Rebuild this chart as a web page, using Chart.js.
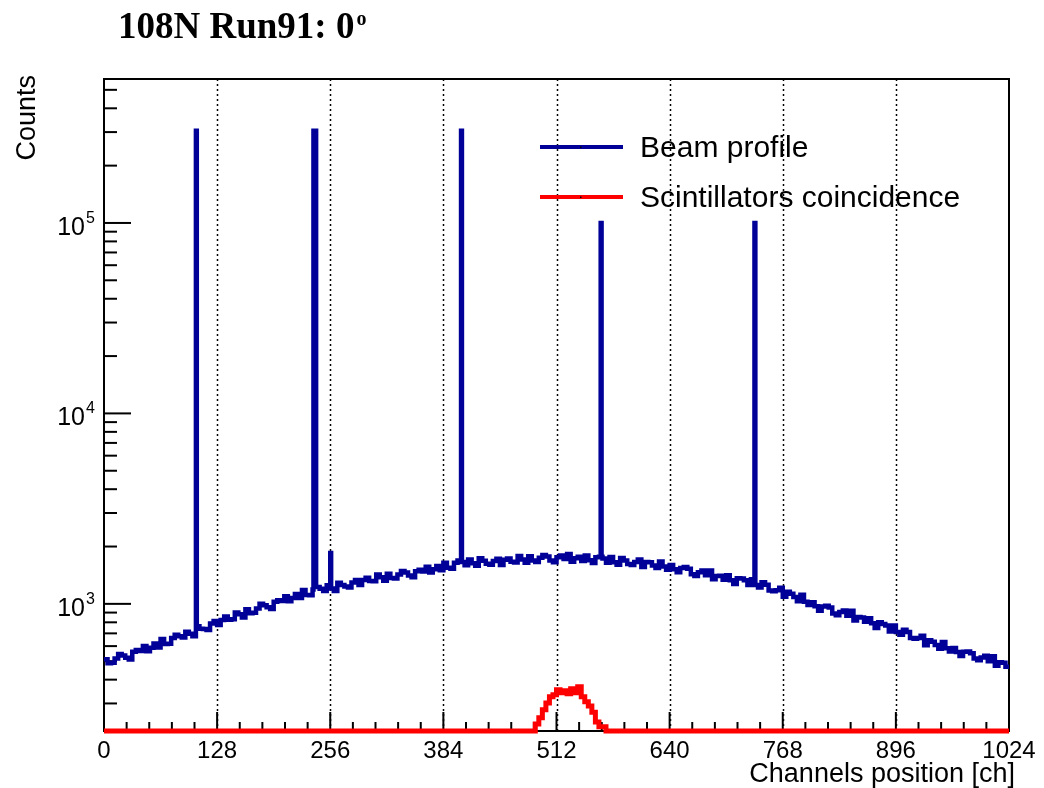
<!DOCTYPE html>
<html>
<head>
<meta charset="utf-8">
<script src="https://cdn.jsdelivr.net/npm/chart.js@4.4.1/dist/chart.umd.min.js"></script>
<style>
  html, body { margin: 0; padding: 0; background: #ffffff; }
  #wrap { width: 1044px; height: 788px; position: relative; }
  canvas { display: block; }
</style>
</head>
<body>
<div id="wrap"><canvas id="c" width="1044" height="788"></canvas></div>
<script>
// ---------------- data ----------------
const titleText = "108N Run91: 0";
const titleSup = "o";
const xTitle = "Channels position [ch]";
const yTitle = "Counts";
const seriesNames = ["Beam profile", "Scintillators coincidence"];

const xTickLabels = [0, 128, 256, 384, 512, 640, 768, 896, 1024];
const yDecadeLabels = [3, 4, 5];

// Beam profile: 256 bins of 4 channels
const beamBinWidth = 4;
const beamCounts = [
  512, 487, 491, 516, 546, 536, 522, 511, 561, 572,
  565, 600, 564, 588, 620, 590, 654, 616, 617, 662,
  689, 676, 665, 713, 697, 676, 762, 741, 738, 730,
  789, 812, 775, 823, 858, 825, 831, 900, 883, 848,
  937, 892, 899, 945, 1002, 982, 959, 940, 1025, 1045,
  1034, 1096, 1032, 1075, 1128, 1073, 1182, 1114, 1110, 1191,
  1226, 1202, 1167, 1251, 1204, 1167, 1292, 1255, 1232, 1219,
  1295, 1333, 1255, 1333, 1372, 1319, 1316, 1425, 1378, 1323,
  1438, 1368, 1357, 1428, 1489, 1461, 1407, 1378, 1482, 1511,
  1478, 1568, 1460, 1521, 1580, 1503, 1642, 1547, 1530, 1642,
  1690, 1657, 1596, 1711, 1633, 1583, 1735, 1685, 1623, 1606,
  1677, 1726, 1602, 1702, 1733, 1666, 1647, 1783, 1712, 1644,
  1776, 1690, 1661, 1747, 1805, 1771, 1690, 1655, 1759, 1794,
  1721, 1825, 1666, 1735, 1766, 1679, 1797, 1693, 1638, 1758,
  1765, 1731, 1642, 1761, 1655, 1605, 1741, 1691, 1618, 1601,
  1659, 1709, 1562, 1660, 1656, 1592, 1542, 1670, 1572, 1509,
  1598, 1520, 1465, 1541, 1560, 1530, 1431, 1401, 1466, 1495,
  1412, 1497, 1346, 1402, 1406, 1337, 1412, 1331, 1270, 1364,
  1357, 1330, 1257, 1348, 1255, 1217, 1297, 1260, 1177, 1165,
  1180, 1215, 1089, 1157, 1131, 1087, 1031, 1116, 1027, 986,
  1021, 971, 921, 969, 976, 957, 889, 871, 905, 923,
  866, 919, 819, 853, 848, 806, 840, 792, 746, 801,
  785, 770, 717, 769, 711, 689, 732, 711, 662, 655,
  661, 680, 607, 645, 633, 609, 582, 630, 585, 562,
  587, 559, 533, 561, 562, 551, 516, 505, 523, 534,
  500, 530, 473, 493, 491, 467
];
// narrow spikes in the beam profile
const spikeChannels = [104, 237, 256, 404, 562, 736];
const spikeWidths   = [1, 3, 1, 1, 1, 1];
const spikeHeights  = [305000, 305000, 1850, 305000, 100000, 100000];

// Scintillators coincidence: 4-channel bins starting at channel 488, zero elsewhere
const redStart = 488;
const redBinWidth = 4;
const redCounts = [234, 252, 278, 302, 325, 333, 354, 341, 350, 337, 358, 341, 367, 325, 306, 291, 270, 240, 226, 226];

const xMin = 0, xMax = 1024;
const yMin = 215, yMax = 570000;

// ---------------- build datasets ----------------
// zero counts are drawn on the axis floor (log scale cannot show 0)
const floorVal = v => (v > yMin ? v : yMin);
function buildBeam() {
  const n = beamCounts.length;
  const pts = [];
  for (let i = 0; i < n; i++) pts.push({ x: i * beamBinWidth, y: beamCounts[i] });
  pts.push({ x: n * beamBinWidth, y: beamCounts[n - 1] });
  spikeChannels.forEach((c, k) => {
    const w = spikeWidths[k];
    const base = beamCounts[Math.min(n - 1, Math.floor((c + w) / beamBinWidth))];
    pts.push({ x: c, y: spikeHeights[k] });
    pts.push({ x: c + w, y: base });
  });
  pts.sort((a, b) => a.x - b.x);
  return pts;
}
function buildRed() {
  const pts = [{ x: xMin, y: floorVal(0) }];
  redCounts.forEach((v, i) => pts.push({ x: redStart + i * redBinWidth, y: floorVal(v) }));
  pts.push({ x: redStart + redCounts.length * redBinWidth, y: floorVal(0) });
  pts.push({ x: xMax, y: floorVal(0) });
  return pts;
}

const FONT = '"Liberation Sans", Arial, Helvetica, sans-serif';

const framePlugin = {
  id: 'rootFrame',
  beforeDatasetsDraw(chart) {
    const ctx = chart.ctx;
    const xs = chart.scales.x, ys = chart.scales.y;
    const a = chart.chartArea;
    ctx.save();
    // dotted grid
    ctx.strokeStyle = '#000';
    ctx.lineWidth = 1.5;
    ctx.setLineDash([2, 3]);
    for (let v = 128; v < 1024; v += 128) {
      const px = Math.round(xs.getPixelForValue(v)) + 0.5;
      ctx.beginPath(); ctx.moveTo(px, a.top); ctx.lineTo(px, a.bottom); ctx.stroke();
    }
    ctx.setLineDash([]);
    // frame
    ctx.lineWidth = 2;
    ctx.strokeRect(a.left, a.top, a.right - a.left, a.bottom - a.top);
    // x ticks
    for (let k = 0; k <= 40; k++) {
      const v = k * 25.6;
      const px = xs.getPixelForValue(v);
      const len = (k % 5 === 0) ? 19 : 9;
      ctx.beginPath(); ctx.moveTo(px, a.bottom); ctx.lineTo(px, a.bottom - len); ctx.stroke();
    }
    // y ticks
    for (let d = 2; d <= 5; d++) {
      for (let m = 1; m <= 9; m++) {
        const v = m * Math.pow(10, d);
        if (v < yMin || v > yMax) continue;
        const py = ys.getPixelForValue(v);
        const len = (m === 1) ? 27 : 13;
        ctx.beginPath(); ctx.moveTo(a.left, py); ctx.lineTo(a.left + len, py); ctx.stroke();
      }
    }
    // x tick labels
    ctx.fillStyle = '#000';
    ctx.font = '24px ' + FONT;
    ctx.textAlign = 'center';
    ctx.textBaseline = 'alphabetic';
    xTickLabels.forEach(v => {
      ctx.fillText(String(v), xs.getPixelForValue(v), a.bottom + 27);
    });
    // y tick labels 10^n
    yDecadeLabels.forEach(n => {
      const py = ys.getPixelForValue(Math.pow(10, n));
      ctx.font = '25px ' + FONT;
      ctx.textAlign = 'right';
      ctx.fillText('10', 85, py + 12);
      ctx.font = '16px ' + FONT;
      ctx.textAlign = 'left';
      ctx.fillText(String(n), 86, py);
    });
    // axis titles
    ctx.font = '27px ' + FONT;
    ctx.textAlign = 'right';
    ctx.fillText(xTitle, 1015, 782);
    ctx.save();
    ctx.translate(35, 75);
    ctx.rotate(-Math.PI / 2);
    ctx.textAlign = 'right';
    ctx.fillText(yTitle, 0, 0);
    ctx.restore();
    // title
    ctx.font = 'bold 37px "Liberation Serif", "Times New Roman", serif';
    ctx.textAlign = 'left';
    ctx.fillText(titleText, 118, 38);
    const tw = ctx.measureText(titleText).width;
    ctx.font = 'bold 20px "Liberation Serif", "Times New Roman", serif';
    ctx.fillText(titleSup, 118 + tw + 2, 25);
    ctx.restore();
  },
  afterDatasetsDraw(chart) {
    const ctx = chart.ctx;
    ctx.save();
    const items = [
      { label: seriesNames[0], color: '#000099', y: 147 },
      { label: seriesNames[1], color: '#ff0000', y: 197 }
    ];
    items.forEach(it => {
      ctx.strokeStyle = it.color;
      ctx.lineWidth = 4;
      ctx.beginPath(); ctx.moveTo(540, it.y); ctx.lineTo(623, it.y); ctx.stroke();
      ctx.fillStyle = '#000';
      ctx.fillRect(580, it.y - 0.5, 1.5, 1.5);
      ctx.font = '30px ' + FONT;
      ctx.textAlign = 'left';
      ctx.textBaseline = 'alphabetic';
      ctx.fillText(it.label, 640, it.y + 10);
    });
    ctx.restore();
  }
};

new Chart(document.getElementById('c'), {
  type: 'line',
  data: {
    datasets: [
      {
        label: seriesNames[1],
        data: buildRed(),
        borderColor: '#ff0000',
        borderWidth: 5,
        stepped: 'before',
        pointRadius: 0,
        fill: false,
        clip: false,
        borderJoinStyle: 'miter',
        borderCapStyle: 'butt',
        order: 1
      },
      {
        label: seriesNames[0],
        data: buildBeam(),
        borderColor: '#000099',
        borderWidth: 4.5,
        stepped: 'before',
        pointRadius: 0,
        fill: false,
        clip: false,
        borderJoinStyle: 'miter',
        borderCapStyle: 'butt',
        order: 2
      }
    ]
  },
  options: {
    responsive: false,
    devicePixelRatio: 1,
    animation: false,
    layout: { padding: { left: 104, top: 79, right: 35, bottom: 57 } },
    plugins: { legend: { display: false }, title: { display: false }, tooltip: { enabled: false } },
    scales: {
      x: { type: 'linear', min: xMin, max: xMax, display: false },
      y: { type: 'logarithmic', min: yMin, max: yMax, display: false }
    }
  },
  plugins: [framePlugin]
});
</script>
</body>
</html>
